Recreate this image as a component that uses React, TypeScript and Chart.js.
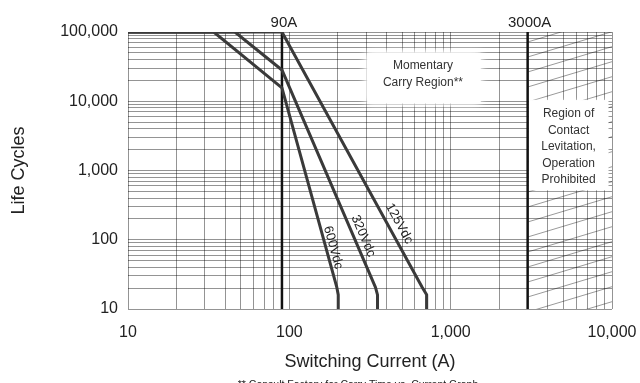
import React, { useEffect, useRef } from "react";
import { Chart, registerables } from "chart.js";

Chart.register(...registerables);

const FONT = "'Liberation Sans', Arial, Helvetica, sans-serif";

// grid lines (1..9 per decade)
const gridMultipliers = [1, 2, 3, 4, 5, 6, 7, 8, 9];
const xDecades = [10, 100, 1000];
const yDecades = [10, 100, 1000, 10000];
const xGridValues = [...xDecades.flatMap((d) => gridMultipliers.map((m) => m * d)), 10000];
const yGridValues = [...yDecades.flatMap((d) => gridMultipliers.map((m) => m * d)), 100000];

// tick labels
const xTickValues = [10, 100, 1000, 10000];
const xTickLabels = ["10", "100", "1,000", "10,000"];
const yTickValues = [10, 100, 1000, 10000, 100000];
const yTickLabels = ["10", "100", "1,000", "10,000", "100,000"];

// curves: switching current (A) vs life cycles
const curveNames = ["600Vdc", "320Vdc", "125Vdc"];
const current600 = [10, 34, 90, 197, 201, 201];
const cycles600 = [100000, 100000, 15600, 20.5, 16, 10];
const current320 = [10, 46, 90, 342, 352, 352];
const cycles320 = [100000, 100000, 28300, 20.5, 16, 10];
const current125 = [10, 90, 667, 710, 710];
const cycles125 = [100000, 100000, 20.5, 16, 10];

// limit lines
const limitCurrents = [90, 3000];
const limitLabels = ["90A", "3000A"];
const limitCycles = [10, 100000];

// region annotations
const momentaryText = ["Momentary", "Carry Region**"];
const momentaryBoxCurrent = [305, 1530];
const momentaryBoxCycles = [9400, 50000];
const levitationText = ["Region of", "Contact", "Levitation,", "Operation", "Prohibited"];
const hatchCurrent = [3000, 10000];
const levitationBoxCurrent = [3050, 9500];
const levitationBoxCycles = [520, 10400];

const xTitle = "Switching Current (A)";
const yTitle = "Life Cycles";
const footnote = "** Consult Factory for Carry Time vs. Current Graph";

const curves = [
  { name: curveNames[0], current: current600, cycles: cycles600, seg: 2, t: 0.81, off: 7 },
  { name: curveNames[1], current: current320, cycles: cycles320, seg: 2, t: 0.78, off: 9 },
  { name: curveNames[2], current: current125, cycles: cycles125, seg: 1, t: 0.77, off: 10.5 },
];

const annotationPlugin = {
  id: "annotations",
  beforeDatasetsDraw(chart: any) {
    const { ctx, chartArea, scales } = chart;
    const { top, bottom } = chartArea;
    const xs = scales.x;
    const ys = scales.y;
    // hatching
    const hx0 = xs.getPixelForValue(hatchCurrent[0]);
    const hx1 = xs.getPixelForValue(hatchCurrent[1]);
    ctx.save();
    ctx.beginPath();
    ctx.rect(hx0, top, hx1 - hx0, bottom - top);
    ctx.clip();
    ctx.strokeStyle = "rgba(0,0,0,0.5)";
    ctx.lineWidth = 0.8;
    const w = hx1 - hx0;
    const slope = 0.3;
    for (let y0 = top - 5; y0 < bottom + w * slope + 20; y0 += 15) {
      ctx.beginPath();
      ctx.moveTo(hx0, y0);
      ctx.lineTo(hx1, y0 - w * slope);
      ctx.stroke();
    }
    ctx.restore();

    // levitation box
    const lx0 = xs.getPixelForValue(levitationBoxCurrent[0]);
    const lx1 = xs.getPixelForValue(levitationBoxCurrent[1]);
    const ly0 = ys.getPixelForValue(levitationBoxCycles[1]);
    const ly1 = ys.getPixelForValue(levitationBoxCycles[0]);
    ctx.save();
    ctx.fillStyle = "#fff";
    ctx.shadowColor = "#fff";
    ctx.shadowBlur = 3;
    ctx.fillRect(lx0, ly0, lx1 - lx0, ly1 - ly0);
    ctx.restore();

    // momentary box
    const mx0 = xs.getPixelForValue(momentaryBoxCurrent[0]);
    const mx1 = xs.getPixelForValue(momentaryBoxCurrent[1]);
    const my0 = ys.getPixelForValue(momentaryBoxCycles[1]);
    const my1 = ys.getPixelForValue(momentaryBoxCycles[0]);
    ctx.save();
    ctx.fillStyle = "#fff";
    ctx.shadowColor = "#fff";
    ctx.shadowBlur = 8;
    ctx.fillRect(mx0, my0, mx1 - mx0, my1 - my0);
    ctx.fillRect(mx0, my0, mx1 - mx0, my1 - my0);
    ctx.restore();

    ctx.save();
    ctx.fillStyle = "#333";
    ctx.font = `12px ${FONT}`;
    ctx.textAlign = "center";
    ctx.textBaseline = "middle";
    const mcx = (mx0 + mx1) / 2 - 1;
    const mcy = (my0 + my1) / 2 - 4;
    momentaryText.forEach((s, i) => {
      ctx.fillText(s, mcx, mcy + (i - (momentaryText.length - 1) / 2) * 16.5);
    });
    const lcx = (lx0 + lx1) / 2;
    const lcy = (ly0 + ly1) / 2 + 2;
    levitationText.forEach((s, i) => {
      ctx.fillText(s, lcx, lcy + (i - (levitationText.length - 1) / 2) * 16.5);
    });
    ctx.restore();
  },
  afterDatasetsDraw(chart: any) {
    const { ctx, chartArea, scales } = chart;
    const xs = scales.x;
    const ys = scales.y;
    ctx.save();
    ctx.fillStyle = "#222";
    ctx.textAlign = "center";
    ctx.textBaseline = "middle";
    // curve labels
    ctx.font = `13px ${FONT}`;
    curves.forEach((c) => {
      const x1 = xs.getPixelForValue(c.current[c.seg]);
      const y1 = ys.getPixelForValue(c.cycles[c.seg]);
      const x2 = xs.getPixelForValue(c.current[c.seg + 1]);
      const y2 = ys.getPixelForValue(c.cycles[c.seg + 1]);
      const dx = x2 - x1;
      const dy = y2 - y1;
      const len = Math.hypot(dx, dy);
      const px = x1 + dx * c.t + (dy / len) * c.off;
      const py = y1 + dy * c.t + (-dx / len) * c.off;
      ctx.save();
      ctx.translate(px, py);
      ctx.rotate(Math.atan2(dy, dx));
      ctx.fillText(c.name, 0, 0);
      ctx.restore();
    });
    // limit labels
    ctx.font = `15px ${FONT}`;
    limitCurrents.forEach((c, i) => {
      ctx.fillText(limitLabels[i], xs.getPixelForValue(c) + 2, chartArea.top - 9);
    });
    // footnote
    ctx.font = `10.5px ${FONT}`;
    ctx.fillText(footnote, (chartArea.left + chartArea.right) / 2 - 12, chart.height + 2);
    ctx.restore();
  },
};

export default function App() {
  const canvasRef = useRef<HTMLCanvasElement | null>(null);

  useEffect(() => {
    if (!canvasRef.current) return;
    const gridColor = "rgba(0,0,0,0.42)";
    const chart = new Chart(canvasRef.current, {
      type: "line",
      data: {
        datasets: [
          ...curves.map((c) => ({
            label: c.name,
            data: c.current.map((v, i) => ({ x: v, y: c.cycles[i] })),
            borderColor: "#3a3a3a",
            borderWidth: 3,
            pointRadius: 0,
            fill: false,
            tension: 0,
            borderJoinStyle: "round" as const,
          })),
          ...limitCurrents.map((c, i) => ({
            label: limitLabels[i],
            data: limitCycles.map((v) => ({ x: c, y: v })),
            borderColor: "#111",
            borderWidth: 2.5,
            pointRadius: 0,
            fill: false,
          })),
        ],
      },
      options: {
        responsive: false,
        animation: false,
        devicePixelRatio: 1,
        layout: { padding: { top: 32, right: 28, left: 0, bottom: 0 } },
        plugins: {
          legend: { display: false },
          tooltip: { enabled: false },
        },
        scales: {
          x: {
            type: "logarithmic",
            min: 10,
            max: 10000,
            afterBuildTicks: (s: any) => {
              s.ticks = xGridValues.map((v) => ({ value: v }));
            },
            afterFit: (s: any) => {
              s.height = 74;
              s.paddingLeft = 0;
              s.paddingRight = 0;
            },
            ticks: {
              autoSkip: false,
              maxRotation: 0,
              minRotation: 0,
              padding: 14,
              color: "#222",
              font: { family: FONT, size: 16 },
              callback: (v: any) => {
                const i = xTickValues.indexOf(Number(v));
                return i >= 0 ? xTickLabels[i] : "";
              },
            },
            grid: { color: gridColor, lineWidth: 1, drawTicks: false },
            border: { display: false },
            title: {
              display: true,
              text: xTitle,
              color: "#222",
              font: { family: FONT, size: 18 },
              padding: { top: 0, bottom: 10 },
            },
          },
          y: {
            type: "logarithmic",
            min: 10,
            max: 100000,
            afterBuildTicks: (s: any) => {
              s.ticks = yGridValues.map((v) => ({ value: v }));
            },
            afterFit: (s: any) => {
              s.width = 128;
              s.paddingTop = 0;
              s.paddingBottom = 0;
            },
            ticks: {
              autoSkip: false,
              padding: 10,
              color: "#222",
              font: { family: FONT, size: 16 },
              callback: (v: any) => {
                const i = yTickValues.indexOf(Number(v));
                return i >= 0 ? yTickLabels[i] : "";
              },
            },
            grid: { color: gridColor, lineWidth: 1, drawTicks: false },
            border: { display: false },
            title: {
              display: true,
              text: yTitle,
              color: "#222",
              font: { family: FONT, size: 18 },
              padding: { top: 8, bottom: 0 },
            },
          },
        },
      },
      plugins: [annotationPlugin],
    });
    return () => chart.destroy();
  }, []);

  return (
    <div style={{ position: "fixed", left: 0, top: 0, width: 640, height: 383, background: "#fff" }}>
      <canvas ref={canvasRef} width={640} height={383} style={{ display: "block" }} />
    </div>
  );
}
